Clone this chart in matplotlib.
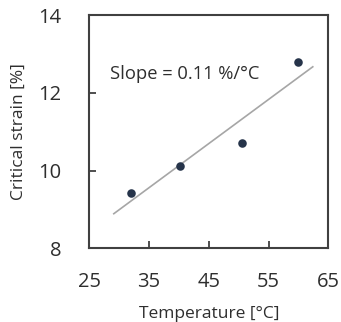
import matplotlib
matplotlib.use("Agg")
import matplotlib.pyplot as plt
import numpy as np

plt.rcParams["font.family"] = ["Open Sans", "DejaVu Sans"]

# data
temperature = [31.9, 40.2, 50.5, 60.0]
critical_strain = [9.43, 10.12, 10.72, 12.8]
fit_range = [29.1, 62.4]
x_ticks = [25, 35, 45, 55, 65]
y_ticks = [8, 10, 12, 14]

TEXT = "#2e2e2e"
SPINE = "#404040"

fig = plt.figure(figsize=(3.41, 3.22), dpi=100)
ax = fig.add_axes([0.2619, 0.2289, 0.7009, 0.7245])

# linear fit
slope, intercept = np.polyfit(temperature, critical_strain, 1)
fx = np.array(fit_range)
ax.plot(fx, slope * fx + intercept, color="#a6a6a6", lw=1.2, zorder=2)
ax.scatter(temperature, critical_strain, s=38, color="#26344a", zorder=3, linewidths=0)

ax.text(0.087, 0.745, "Slope = 0.11 %/°C", transform=ax.transAxes,
        fontsize=13.2, color=TEXT, va="center", ha="left")

ax.set_xlim(25, 65)
ax.set_ylim(8, 14)
ax.set_xticks(x_ticks)
ax.set_yticks(y_ticks)
ax.tick_params(direction="in", length=5, width=1.3, colors=SPINE,
               labelcolor=TEXT, labelsize=14.5)
ax.tick_params(axis="x", pad=17)
ax.tick_params(axis="y", pad=20)
for s in ax.spines.values():
    s.set_color(SPINE)
    s.set_linewidth(1.5)

ax.set_xlabel("Temperature [°C]", fontsize=12.5, color=TEXT, labelpad=10)
ax.set_ylabel("Critical strain [%]", fontsize=12.5, color=TEXT, labelpad=8)

fig.savefig("out.png", dpi=100)
